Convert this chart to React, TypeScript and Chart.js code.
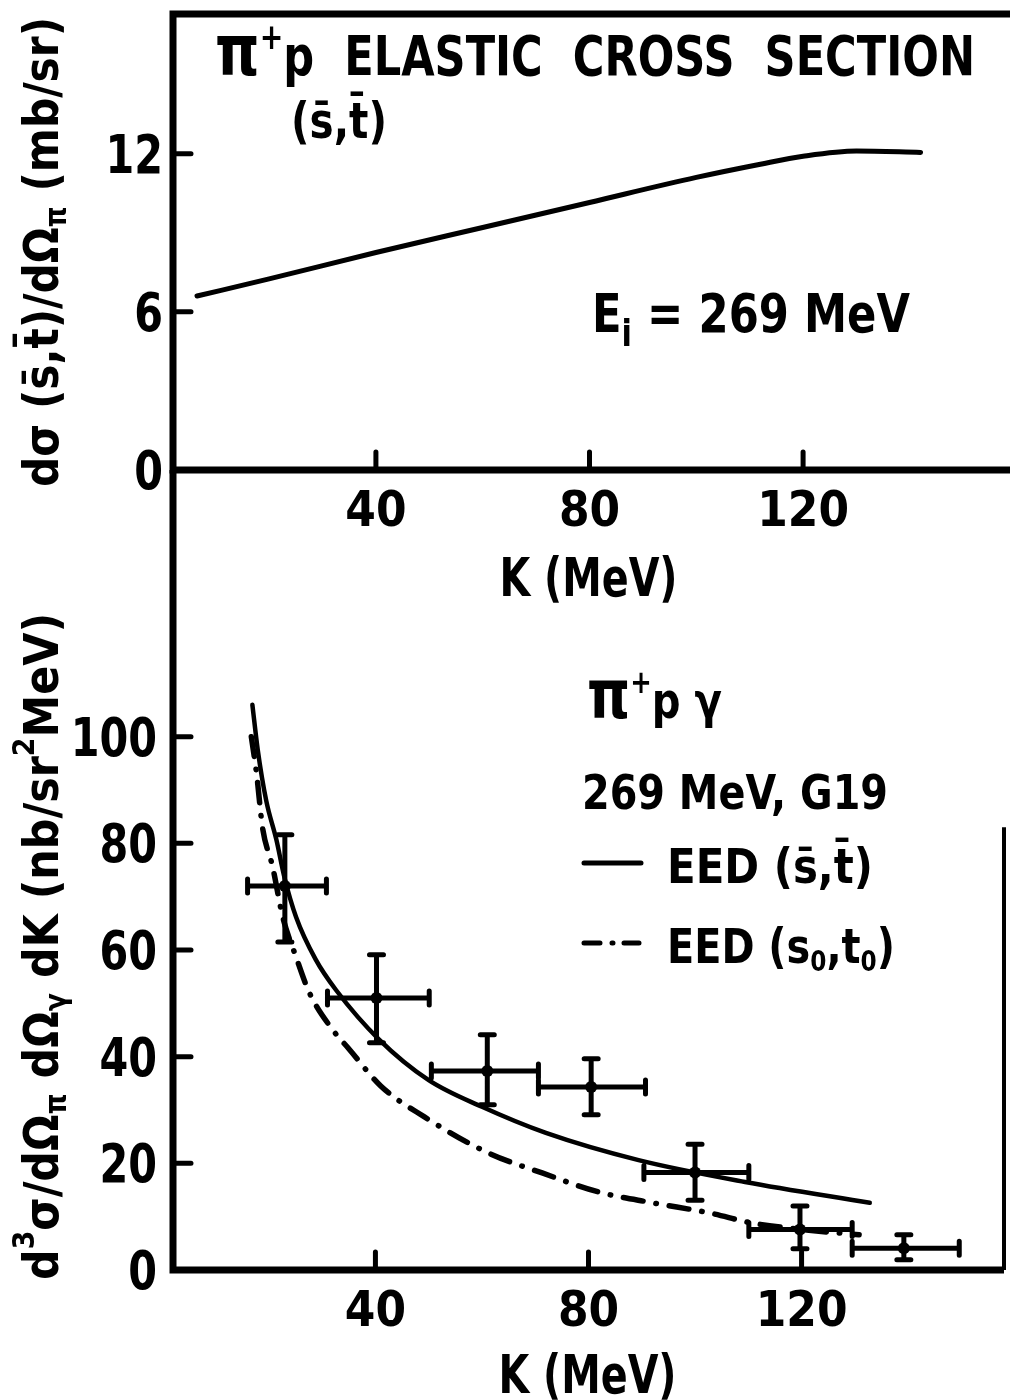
import React, { useEffect, useRef } from "react";
import { Chart, registerables } from "chart.js";

Chart.register(...registerables);

// ---------- shared K axis ----------
const K_MIN = 2;
const K_MAX = 158;
const K_TICKS = [40, 80, 120];

// ---------- upper panel: pi+ p elastic cross section at (s-bar, t-bar) ----------
const SIGMA_MAX = 17.3;
const SIGMA_TICKS = [0, 6, 12];
const K_ELASTIC = [6.5, 20, 40, 60, 80, 100, 112, 120, 130, 142];
const SIGMA_ELASTIC = [6.6, 7.25, 8.25, 9.2, 10.15, 11.1, 11.6, 11.9, 12.1, 12.05];

// ---------- lower panel: pi+ p gamma, 269 MeV, G19 ----------
const BREMS_MAX = 150;
const BREMS_TICKS = [0, 20, 40, 60, 80, 100];

// EED with (s-bar, t-bar)
const K_EED_BAR = [16.9, 17.9, 19.5, 21.4, 22.9, 25.1, 28.8, 32.6, 40.7, 50, 60, 72, 89.4, 109.4, 132.8];
const EED_BAR = [106, 97.6, 88, 80.7, 73.7, 66.2, 58.2, 52.5, 43.2, 35.6, 30.6, 25.7, 20.6, 16.5, 12.6];

// EED with (s0, t0)
const K_EED_ZERO = [16.7, 17.7, 18.8, 20.7, 22.6, 25.1, 27.6, 32, 35, 41, 49.2, 61.3, 71.3, 82, 92, 102.7, 110.8, 120, 130.8];
const EED_ZERO = [100, 93, 83, 75.6, 66.2, 58.7, 52, 45, 41.5, 34.5, 28.7, 21.9, 18.2, 14.6, 12.6, 10.7, 8.8, 7.6, 6.6];

// measured points with K bins and vertical errors
const K_MEAS = [23, 40.2, 61, 80.5, 100, 119.7, 139.2];
const MEAS = [72, 51, 37.3, 34.3, 18.3, 7.6, 4.1];
const K_MEAS_LO = [16, 31, 50.5, 70.6, 90.4, 110.1, 129.5];
const K_MEAS_HI = [30.8, 50.1, 70.6, 90.7, 110.1, 129.5, 149.6];
const MEAS_LO = [61.5, 42.6, 31, 29.1, 13.1, 4, 1.9];
const MEAS_HI = [81.6, 59.1, 44.1, 39.6, 23.6, 12, 6.6];

const INK = "#000";
const TEXT_FONT = '"DejaVu Sans", "Liberation Sans", sans-serif';
const DASH_DOT = [20, 13, 0.5, 13];

type Run = { t: string; size: number; dy?: number };

// Draw a sequence of text runs (sizes / baseline shifts) squeezed to a given width.
function drawRuns(
  ctx: CanvasRenderingContext2D,
  runs: Run[],
  x: number,
  y: number,
  width: number,
  vertical = false
) {
  ctx.save();
  let total = 0;
  const widths = runs.map((r) => {
    ctx.font = `bold ${r.size}px ${TEXT_FONT}`;
    const w = ctx.measureText(r.t).width;
    total += w;
    return w;
  });
  ctx.translate(x, y);
  if (vertical) ctx.rotate(-Math.PI / 2);
  ctx.scale(width / total, 1);
  ctx.fillStyle = INK;
  ctx.textAlign = "left";
  ctx.textBaseline = "alphabetic";
  let cx = 0;
  runs.forEach((r, i) => {
    ctx.font = `bold ${r.size}px ${TEXT_FONT}`;
    ctx.fillText(r.t, cx, r.dy ?? 0);
    cx += widths[i];
  });
  ctx.restore();
}

// Single label, horizontally condensed by factor sx, anchored by align.
function drawLabel(
  ctx: CanvasRenderingContext2D,
  text: string,
  x: number,
  baseline: number,
  size: number,
  sx: number,
  align: "center" | "right"
) {
  ctx.save();
  ctx.font = `bold ${size}px ${TEXT_FONT}`;
  ctx.fillStyle = INK;
  ctx.textBaseline = "alphabetic";
  ctx.textAlign = align;
  ctx.translate(x, baseline);
  ctx.scale(sx, 1);
  ctx.fillText(text, 0, 0);
  ctx.restore();
}

// Inward tick marks plus their labels, taken from the chart's own scales.
function ticksAndLabels(chart: Chart, labelRight: number) {
  const { ctx, chartArea: a } = chart;
  const x = chart.scales.x;
  const y = chart.scales.y;
  ctx.save();
  ctx.strokeStyle = INK;
  ctx.lineWidth = 5;
  ctx.lineCap = "round";
  ctx.beginPath();
  x.ticks.forEach((t) => {
    const px = x.getPixelForValue(t.value);
    ctx.moveTo(px, a.bottom);
    ctx.lineTo(px, a.bottom - 18);
  });
  y.ticks.forEach((t) => {
    if (t.value === 0) return;
    const py = y.getPixelForValue(t.value);
    ctx.moveTo(a.left, py);
    ctx.lineTo(a.left + 18, py);
  });
  ctx.stroke();
  ctx.restore();

  x.ticks.forEach((t) => {
    drawLabel(ctx, String(t.value), x.getPixelForValue(t.value), a.bottom + 56, 50, 0.88, "center");
  });
  y.ticks.forEach((t) => {
    drawLabel(ctx, String(t.value), labelRight, y.getPixelForValue(t.value) + 19, 53, 0.78, "right");
  });
}

const elasticDecor = {
  id: "elasticDecor",
  afterDraw(chart: Chart) {
    const { ctx, chartArea: a } = chart;
    ctx.save();
    ctx.strokeStyle = INK;
    ctx.lineWidth = 7;
    ctx.lineJoin = "miter";
    ctx.beginPath();
    ctx.moveTo(chart.width, a.top);
    ctx.lineTo(a.left, a.top);
    ctx.lineTo(a.left, a.bottom);
    ctx.lineTo(chart.width, a.bottom);
    ctx.stroke();
    ctx.restore();

    ticksAndLabels(chart, 163);

    drawRuns(ctx, [
      { t: "\u03c0", size: 72 },
      { t: "+", size: 36, dy: -26 },
      { t: "p  ELASTIC  CROSS  SECTION", size: 55 },
    ], 215, 75, 760);
    drawRuns(ctx, [{ t: "(s\u0304,t\u0304)", size: 50 }], 291, 138, 96);
    drawRuns(ctx, [
      { t: "E", size: 54 },
      { t: "i", size: 38, dy: 14 },
      { t: " = 269 MeV", size: 54 },
    ], 592, 332, 318);

    // axis titles
    drawRuns(ctx, [
      { t: "d\u03c3 (s\u0304,t\u0304)/d\u03a9", size: 48 },
      { t: "\u03c0", size: 30, dy: 8 },
      { t: " (mb/sr)", size: 48 },
    ], 58, 487, 470, true);
    const cx = (a.left + a.right) / 2;
    drawRuns(ctx, [{ t: "K (MeV)", size: 54 }], cx - 90, 596, 178);
  },
};

const bremsDecor = {
  id: "bremsDecor",
  afterDatasetsDraw(chart: Chart) {
    const { ctx } = chart;
    const x = chart.scales.x;
    const y = chart.scales.y;
    ctx.save();
    ctx.strokeStyle = INK;
    ctx.lineWidth = 5;
    ctx.lineCap = "round";
    const cap = 7;
    ctx.beginPath();
    K_MEAS.forEach((k, i) => {
      const px = x.getPixelForValue(k);
      const py = y.getPixelForValue(MEAS[i]);
      const xl = x.getPixelForValue(K_MEAS_LO[i]);
      const xh = x.getPixelForValue(K_MEAS_HI[i]);
      const yl = y.getPixelForValue(MEAS_LO[i]);
      const yh = y.getPixelForValue(MEAS_HI[i]);
      ctx.moveTo(xl, py);
      ctx.lineTo(xh, py);
      ctx.moveTo(px, yl);
      ctx.lineTo(px, yh);
      ctx.moveTo(xl, py - cap);
      ctx.lineTo(xl, py + cap);
      ctx.moveTo(xh, py - cap);
      ctx.lineTo(xh, py + cap);
      ctx.moveTo(px - cap, yl);
      ctx.lineTo(px + cap, yl);
      ctx.moveTo(px - cap, yh);
      ctx.lineTo(px + cap, yh);
    });
    ctx.stroke();
    ctx.restore();
  },
  afterDraw(chart: Chart) {
    const { ctx, chartArea: a } = chart;
    const y = chart.scales.y;
    ctx.save();
    ctx.strokeStyle = INK;
    ctx.lineWidth = 7;
    ctx.lineJoin = "miter";
    ctx.beginPath();
    ctx.moveTo(a.left, a.top);
    ctx.lineTo(a.left, a.bottom);
    ctx.lineTo(a.right, a.bottom);
    ctx.stroke();
    // right frame edge
    ctx.lineWidth = 4;
    ctx.beginPath();
    ctx.moveTo(a.right, y.getPixelForValue(83));
    ctx.lineTo(a.right, a.bottom);
    ctx.stroke();
    ctx.restore();

    ticksAndLabels(chart, 157);

    // legend block
    drawRuns(ctx, [
      { t: "\u03c0", size: 68 },
      { t: "+", size: 32, dy: -25 },
      { t: "p \u03b3", size: 50 },
    ], 587, 718, 135);
    drawRuns(ctx, [{ t: "269 MeV, G19", size: 48 }], 582, 809, 306);
    drawRuns(ctx, [{ t: "EED (s\u0304,t\u0304)", size: 48 }], 667, 883, 206);
    drawRuns(ctx, [
      { t: "EED (s", size: 48 },
      { t: "0", size: 28, dy: 8 },
      { t: ",t", size: 48 },
      { t: "0", size: 28, dy: 8 },
      { t: ")", size: 48 },
    ], 667, 963, 228);

    ctx.save();
    ctx.strokeStyle = INK;
    ctx.lineWidth = 5;
    ctx.lineCap = "round";
    ctx.beginPath();
    ctx.moveTo(584, 863);
    ctx.lineTo(641, 863);
    ctx.moveTo(584, 943);
    ctx.lineTo(600, 943);
    ctx.moveTo(612, 943);
    ctx.lineTo(613, 943);
    ctx.moveTo(624, 943);
    ctx.lineTo(639, 943);
    ctx.stroke();
    ctx.restore();

    // axis titles
    drawRuns(ctx, [
      { t: "d", size: 48 },
      { t: "3", size: 30, dy: -24 },
      { t: "\u03c3/d\u03a9", size: 48 },
      { t: "\u03c0", size: 30, dy: 8 },
      { t: " d\u03a9", size: 48 },
      { t: "\u03b3", size: 30, dy: 8 },
      { t: " dK (nb/sr", size: 48 },
      { t: "2", size: 30, dy: -24 },
      { t: "MeV)", size: 48 },
    ], 58, 1280, 667, true);
    const cx = (a.left + a.right) / 2;
    drawRuns(ctx, [{ t: "K (MeV)", size: 54 }], cx - 90, 1393, 178);
  },
};

function kScale(height: number) {
  return {
    type: "linear" as const,
    min: K_MIN,
    max: K_MAX,
    grid: { display: false, drawTicks: false },
    border: { display: false },
    afterBuildTicks: (s: any) => {
      s.ticks = K_TICKS.map((v) => ({ value: v }));
    },
    afterFit: (s: any) => {
      s.height = height;
      s.paddingLeft = 0;
      s.paddingRight = 0;
    },
    ticks: { display: false },
  };
}

function valueScale(max: number, ticks: number[]) {
  return {
    type: "linear" as const,
    min: 0,
    max,
    grid: { display: false, drawTicks: false },
    border: { display: false },
    afterBuildTicks: (s: any) => {
      s.ticks = ticks.map((v) => ({ value: v }));
    },
    afterFit: (s: any) => {
      s.width = 173;
      s.paddingTop = 0;
      s.paddingBottom = 0;
    },
    ticks: { display: false },
  };
}

const curve = (ks: number[], vs: number[], extra: object = {}) => ({
  type: "line" as const,
  data: ks.map((k, i) => ({ x: k, y: vs[i] })),
  borderColor: INK,
  borderWidth: 5,
  pointRadius: 0,
  fill: false,
  cubicInterpolationMode: "monotone" as const,
  borderCapStyle: "round" as const,
  borderJoinStyle: "round" as const,
  ...extra,
});

export default function App() {
  const topRef = useRef<HTMLCanvasElement>(null);
  const bottomRef = useRef<HTMLCanvasElement>(null);

  useEffect(() => {
    const common = {
      animation: false as const,
      responsive: false,
      devicePixelRatio: 1,
      events: [] as any[],
      plugins: { legend: { display: false }, tooltip: { enabled: false } },
    };

    const top = new Chart(topRef.current!, {
      type: "line",
      data: { datasets: [curve(K_ELASTIC, SIGMA_ELASTIC)] },
      options: {
        ...common,
        layout: { padding: { top: 14, right: 4, bottom: 780, left: 0 } },
        scales: { x: kScale(150), y: valueScale(SIGMA_MAX, SIGMA_TICKS) },
      } as any,
      plugins: [elasticDecor],
    });

    const bottom = new Chart(bottomRef.current!, {
      type: "line",
      data: {
        datasets: [
          curve(K_EED_BAR, EED_BAR, { borderWidth: 4.5 }),
          curve(K_EED_ZERO, EED_ZERO, { borderWidth: 5.5, borderDash: DASH_DOT }),
          {
            type: "scatter" as const,
            data: K_MEAS.map((k, i) => ({ x: k, y: MEAS[i] })),
            pointRadius: 6,
            pointBackgroundColor: INK,
            pointBorderWidth: 0,
            showLine: false,
          },
        ],
      },
      options: {
        ...common,
        layout: { padding: { top: 470, right: 4, bottom: 0, left: 0 } },
        scales: { x: kScale(130), y: valueScale(BREMS_MAX, BREMS_TICKS) },
      } as any,
      plugins: [bremsDecor],
    });

    return () => {
      top.destroy();
      bottom.destroy();
    };
  }, []);

  const canvasStyle: React.CSSProperties = { position: "absolute", left: 0, top: 0, width: 1010, height: 1400 };
  return (
    <div style={{ position: "absolute", left: 0, top: 0, width: 1010, height: 1400, background: "#fff" }}>
      <canvas ref={bottomRef} width={1010} height={1400} style={canvasStyle} />
      <canvas ref={topRef} width={1010} height={1400} style={canvasStyle} />
    </div>
  );
}
